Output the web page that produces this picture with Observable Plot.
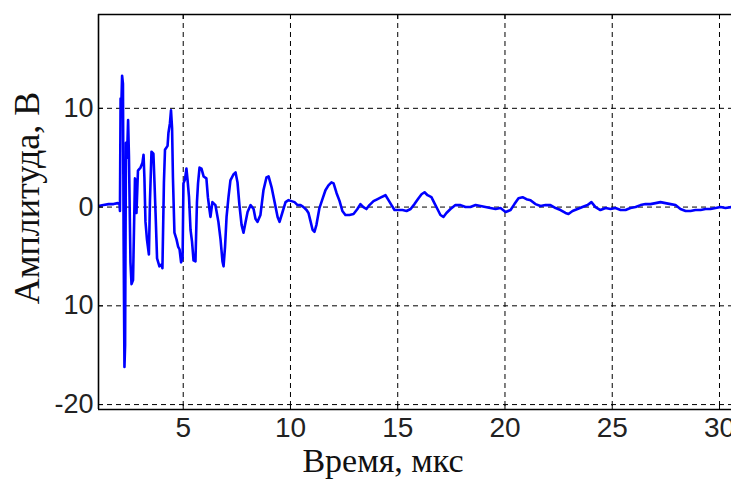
<!DOCTYPE html>
<html>
<head>
<meta charset="utf-8">
<script src="https://cdn.jsdelivr.net/npm/d3@7"></script>
<script src="https://cdn.jsdelivr.net/npm/@observablehq/plot@0.6"></script>
<style>
  html, body { margin: 0; padding: 0; background: #fff; }
</style>
</head>
<body>
<div id="chart"></div>
<script>
// ---- data ----
const time = [
  1.05, 1.28, 1.52, 1.75, 1.94, 2.03, 2.05, 2.08, 2.12, 2.15, 2.19, 2.22, 2.26, 2.29, 2.33, 2.38, 2.43, 2.47,
  2.54, 2.59, 2.66, 2.75, 2.80, 2.82, 2.89, 3.01, 3.10, 3.15, 3.19, 3.24, 3.31, 3.40, 3.45, 3.52, 3.61, 3.66,
  3.71, 3.78, 3.89, 3.99, 4.03, 4.10, 4.15, 4.27, 4.31, 4.38, 4.43, 4.48, 4.52, 4.59, 4.69, 4.76, 4.83, 4.90,
  4.97, 5.01, 5.08, 5.15, 5.20, 5.27, 5.34, 5.41, 5.48, 5.57, 5.64, 5.69, 5.76, 5.85, 5.95, 6.08, 6.15, 6.22,
  6.27, 6.36, 6.50, 6.64, 6.74, 6.83, 6.88, 6.95, 7.02, 7.11, 7.20, 7.34, 7.44, 7.53, 7.62, 7.72, 7.81, 7.90,
  8.00, 8.14, 8.28, 8.37, 8.46, 8.60, 8.74, 8.88, 8.98, 9.12, 9.26, 9.40, 9.49, 9.63, 9.77, 9.91, 10.05, 10.19,
  10.33, 10.47, 10.61, 10.75, 10.84, 10.93, 11.03, 11.12, 11.21, 11.35, 11.49, 11.63, 11.77, 11.91, 12.01, 12.15,
  12.29, 12.42, 12.56, 12.75, 12.94, 13.12, 13.26, 13.40, 13.54, 13.68, 13.87, 14.06, 14.24, 14.43, 14.57, 14.71,
  14.85, 15.04, 15.22, 15.41, 15.60, 15.78, 15.97, 16.11, 16.25, 16.39, 16.57, 16.71, 16.85, 16.99, 17.13, 17.27,
  17.46, 17.69, 17.93, 18.16, 18.39, 18.63, 18.86, 19.09, 19.32, 19.56, 19.79, 20.03, 20.26, 20.44, 20.63, 20.82,
  21.00, 21.19, 21.42, 21.66, 21.89, 22.12, 22.36, 22.59, 22.82, 22.96, 23.15, 23.38, 23.61, 23.85, 24.03, 24.22,
  24.45, 24.69, 24.92, 25.15, 25.39, 25.62, 25.85, 26.09, 26.32, 26.55, 26.78, 27.02, 27.25, 27.48, 27.72, 27.95,
  28.18, 28.42, 28.65, 28.88, 29.12, 29.35, 29.58, 29.82, 30.05, 30.28, 30.56
];
const amplitude = [
  0.1, 0.2, 0.3, 0.3, 0.4, 0.3, -0.4, 11.0, 10.8, 13.3, 12.5, -3.0, -16.2, -14.0, 6.5, 5.0, 8.8, 5.1,
  -5.6, -7.8, -7.4, 2.9, 2.0, -0.6, 3.7, 4.0, 4.5, 5.3, 3.0, -1.5, -3.3, -4.8, 0.7, 5.6, 5.4, 2.5,
  -0.6, -5.2, -6.0, -5.8, -6.2, 2.5, 5.8, 6.2, 7.5, 8.5, 9.8, 8.0, 3.0, -2.6, -3.3, -4.0, -4.3, -5.6,
  -5.2, 2.4, 2.8, 3.9, 2.8, 1.0, -2.3, -3.5, -5.4, -5.5, 0.5, 2.4, 4.0, 3.9, 3.1, 2.9, 1.0, -0.2,
  -1.0, 0.5, 0.2, -1.5, -3.3, -5.5, -6.0, -4.0, -1.0, 1.0, 2.7, 3.3, 3.5, 2.5, 0.2, -1.8, -2.6, -1.6,
  -0.5, 0.2, -0.2, -1.2, -1.5, -0.8, 1.7, 3.0, 3.1, 2.0, 0.5, -1.0, -1.5, -0.5, 0.5, 0.7, 0.6, 0.5,
  0.2, 0.2, 0.0, -0.3, -0.6, -1.4, -2.3, -2.5, -1.8, -0.1, 0.8, 1.7, 2.2, 2.5, 2.4, 1.4,
  0.6, -0.4, -0.8, -0.8, -0.7, -0.2, 0.3, 0.0, -0.2, 0.2, 0.6, 0.8, 1.0, 1.2, 0.7, 0.2,
  -0.3, -0.3, -0.3, -0.4, -0.2, 0.3, 0.9, 1.3, 1.5, 1.2, 1.0, 0.4, -0.2, -0.8, -1.0, -0.6,
  -0.2, 0.2, 0.2, 0.0, 0.0, 0.2, 0.1, 0.0, -0.1, -0.2, -0.1, -0.5, -0.3, 0.3, 0.9, 1.0,
  0.8, 0.7, 0.3, 0.1, 0.2, 0.2, -0.1, -0.3, -0.6, -0.7, -0.4, -0.2, 0.0, 0.2, 0.5, 0.0,
  -0.3, -0.1, -0.2, -0.1, -0.3, -0.3, -0.1, 0.0, 0.2, 0.3, 0.3, 0.4, 0.5, 0.4, 0.3, 0.2,
  -0.2, -0.4, -0.4, -0.3, -0.3, -0.2, -0.2, -0.1, 0.0, -0.1, 0.0
];
const xTicks = [5, 10, 15, 20, 25, 30];
const xTickLabels = ["5", "10", "15", "20", "25", "30"];
const yTicks = [-20, -10, 0, 10];
const yTickLabels = ["-20", "10", "0", "10"];
const xTitle = "Время, мкс";
const yTitle = "Амплитуда, В";
const xDomain = [1.05, 30.56];
const yDomain = [-20.5, 19.5];

// ---- chart ----
const xLabelMap = new Map(xTicks.map((d, i) => [d, xTickLabels[i]]));
const yLabelMap = new Map(yTicks.map((d, i) => [d, yTickLabels[i]]));
const xTickLen = (xDomain[1] - xDomain[0]) * 5 / 633;
const yTickLen = (yDomain[1] - yDomain[0]) * 5 / 395;

const chart = Plot.plot({
  width: 731,
  height: 479,
  marginLeft: 98,
  marginRight: 0,
  marginTop: 14,
  marginBottom: 70,
  x: { domain: xDomain },
  y: { domain: yDomain },
  style: { background: "#fff", fontFamily: "'Liberation Sans', Arial, sans-serif", overflow: "visible" },
  marks: [
    Plot.gridX(xTicks, { stroke: "#000", strokeOpacity: 1, strokeWidth: 1, strokeDasharray: "5,4" }),
    Plot.gridY(yTicks, { stroke: "#000", strokeOpacity: 1, strokeWidth: 1, strokeDasharray: "5,4" }),
    Plot.line(amplitude, { x: time, y: amplitude, stroke: "#0000ff", strokeWidth: 2.6, strokeLinejoin: "round", clip: true }),
    // inward ticks
    Plot.ruleX(xTicks, { x: d => d, y1: yDomain[0], y2: yDomain[0] + yTickLen, stroke: "#000", strokeWidth: 1 }),
    Plot.ruleX(xTicks, { x: d => d, y1: yDomain[1], y2: yDomain[1] - yTickLen, stroke: "#000", strokeWidth: 1 }),
    Plot.ruleY(yTicks, { y: d => d, x1: xDomain[0], x2: xDomain[0] + xTickLen, stroke: "#000", strokeWidth: 1 }),
    // frame (left, top, bottom)
    Plot.ruleX([xDomain[0]], { stroke: "#000", strokeWidth: 1.6 }),
    Plot.ruleY([yDomain[0], yDomain[1]], { stroke: "#000", strokeWidth: 1.6 }),
    // axes
    Plot.axisX(xTicks, { tickSize: 0, tickPadding: 8, fontSize: 28, fill: "#222", tickFormat: d => xLabelMap.get(d), label: null }),
    Plot.axisY(yTicks, { tickSize: 0, tickPadding: 5, fontSize: 27, fill: "#222", tickFormat: d => yLabelMap.get(d), label: null }),
    // titles
    Plot.text([xTitle], { frameAnchor: "bottom", textAnchor: "middle", dx: -32, dy: 52, lineAnchor: "middle", fontSize: 34, fontFamily: "'Liberation Serif', 'Times New Roman', serif", fill: "#111" }),
    Plot.text([yTitle], { frameAnchor: "left", textAnchor: "middle", rotate: -90, dx: -71, dy: -14, lineAnchor: "middle", fontSize: 36, fontFamily: "'Liberation Serif', 'Times New Roman', serif", fill: "#111" })
  ]
});
document.getElementById("chart").appendChild(chart);
</script>
</body>
</html>
